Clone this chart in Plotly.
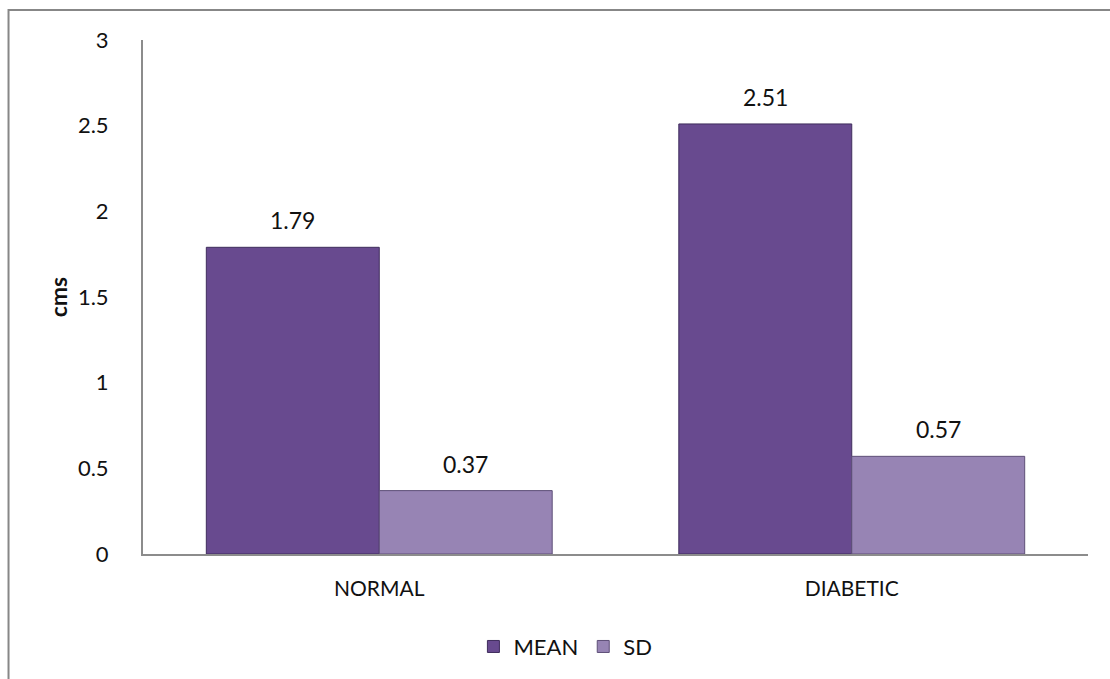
import plotly.graph_objects as go

categories = ["NORMAL", "DIABETIC"]
mean_values = [1.79, 2.51]
sd_values = [0.37, 0.57]
y_ticks = [0, 0.5, 1, 1.5, 2, 2.5, 3]
y_tick_labels = ["0", "0.5", "1", "1.5", "2", "2.5", "3"]

FONT = "Lato, 'Open Sans', sans-serif"
PLOT_W = 1110 - 143 - 22
BAR_GAP = 0.268
# half the pixel width of one bar in a two-bar group
HALF_BAR_PX = PLOT_W / len(categories) * (1 - BAR_GAP) / 4

fig = go.Figure()
fig.add_trace(go.Bar(
    name="MEAN", x=categories, y=mean_values,
    marker=dict(color="#684a8f", line=dict(color="#3f2d5c", width=1)),
))
fig.add_trace(go.Bar(
    name="SD", x=categories, y=sd_values,
    marker=dict(color="#9784b4", line=dict(color="#5e4f78", width=1)),
))

# value labels above each bar
for vals, shift in ((mean_values, -HALF_BAR_PX), (sd_values, HALF_BAR_PX)):
    for cat, v in zip(categories, vals):
        fig.add_annotation(x=cat, y=v, text=f"{v:.2f}", showarrow=False,
                           xshift=shift, yshift=27, yanchor="middle",
                           font=dict(size=23, color="#111111", family=FONT))

# outer chart frame (top and left edges visible)
fig.add_shape(type="rect", xref="paper", yref="paper",
              x0=-0.1423, y0=-0.30, x1=1.12, y1=1.0583,
              line=dict(color="#878787", width=2), fillcolor="rgba(0,0,0,0)",
              layer="below")

fig.update_layout(
    width=1110, height=679,
    margin=dict(l=143, r=22, t=40, b=124),
    paper_bgcolor="white", plot_bgcolor="white",
    barmode="group", bargap=BAR_GAP, bargroupgap=0,
    font=dict(family=FONT, size=22, color="#111111"),
    showlegend=True,
    legend=dict(orientation="h", x=0.447, xanchor="center", y=-0.178, yanchor="middle",
                font=dict(size=22, family=FONT), itemwidth=30, traceorder="normal"),
    xaxis=dict(showline=True, linecolor="#8c8c8c", linewidth=2, showgrid=False,
               ticks="", tickfont=dict(size=21, family=FONT), ticklabelstandoff=15),
    yaxis=dict(range=[0, 3], tickvals=y_ticks, ticktext=y_tick_labels,
               showline=True, linecolor="#8c8c8c", linewidth=2, showgrid=False,
               zeroline=False, ticks="", tickfont=dict(size=22, family=FONT),
               ticklabelstandoff=28,
               title=dict(text="<b>cms</b>", font=dict(size=23, family=FONT), standoff=4)),
)

fig.write_html("out.html")
